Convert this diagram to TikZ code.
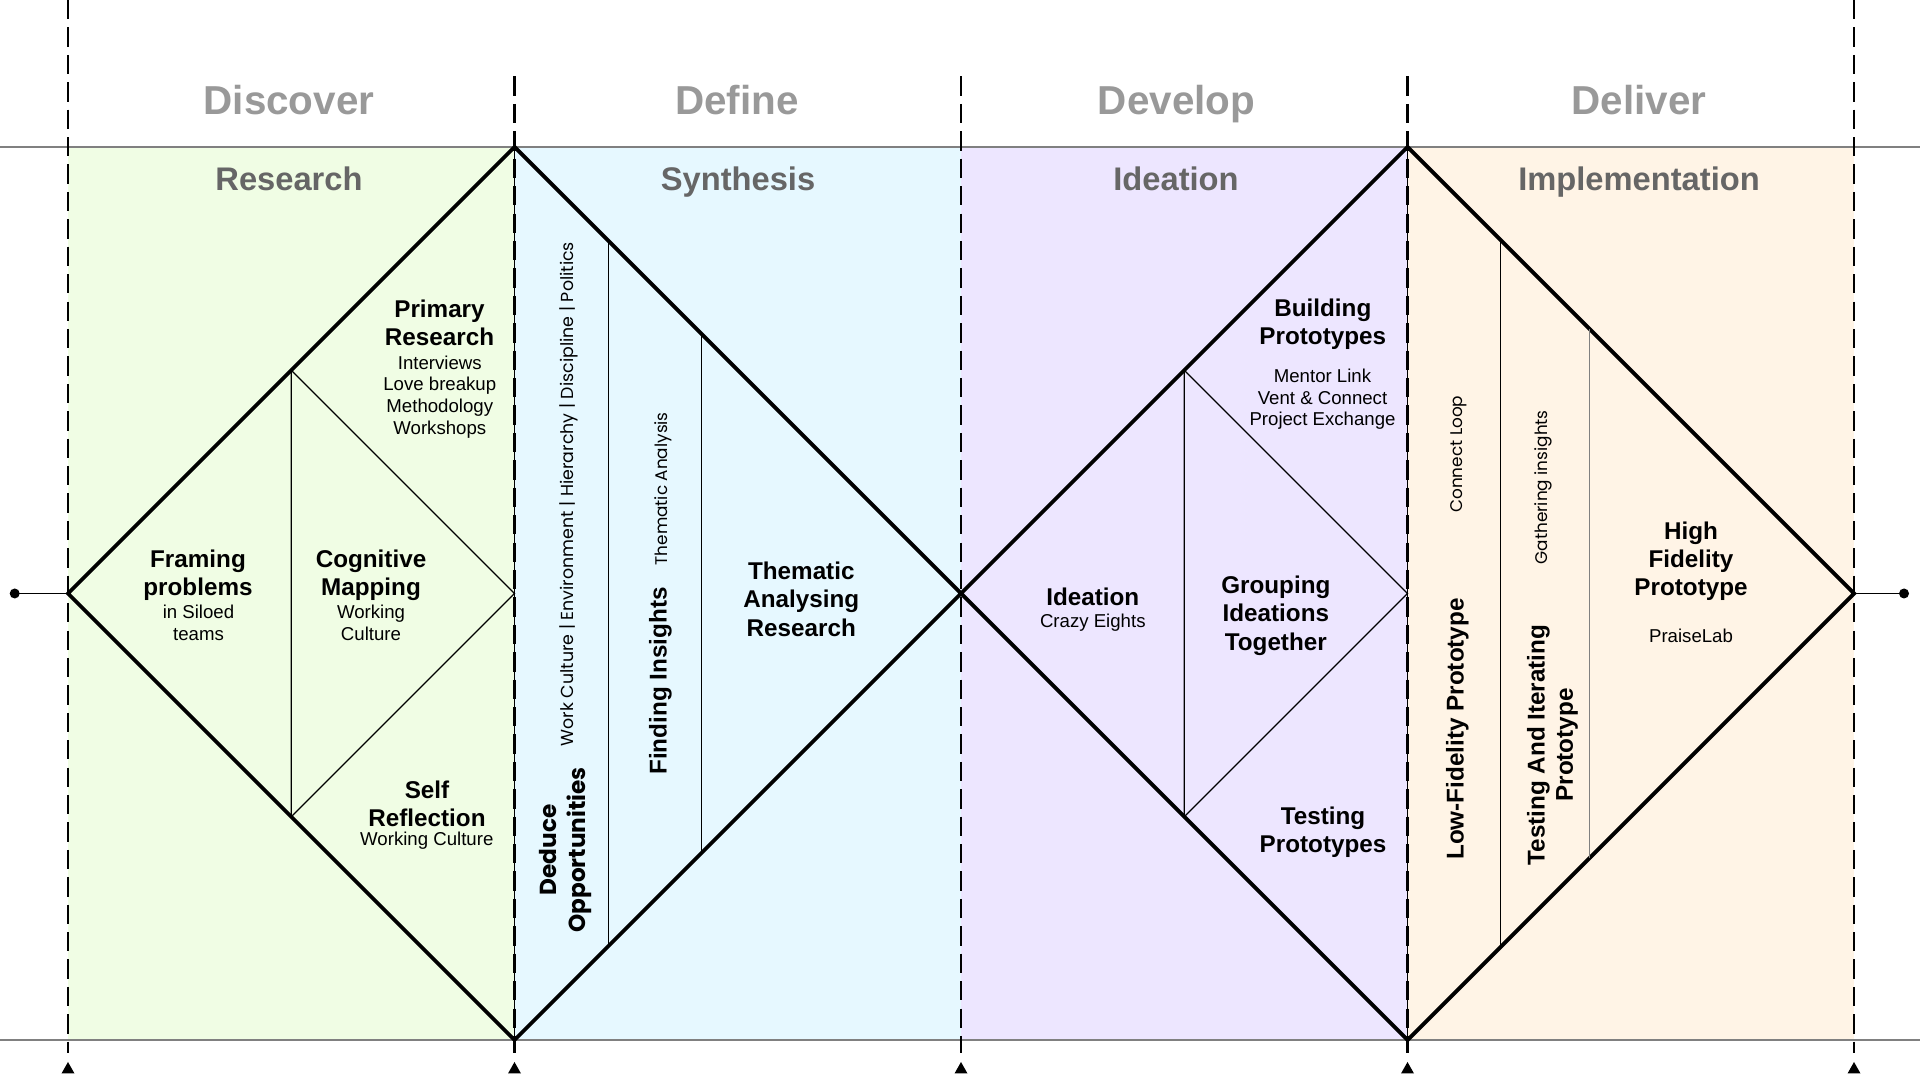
\documentclass[tikz,border=0pt]{standalone}
\usepackage{fontspec}
\setmainfont{Liberation Sans}
\newfontfamily\popfont{Poppins}
\usepackage{xcolor}
\usepackage{tikz}
\usetikzlibrary{positioning}

\definecolor{grnbg}{RGB}{240,253,228}
\definecolor{cyanbg}{RGB}{230,248,255}
\definecolor{lavbg}{RGB}{237,230,255}
\definecolor{peachbg}{RGB}{255,244,230}
\definecolor{phasegray}{RGB}{153,153,153}
\definecolor{stagegray}{RGB}{102,102,102}
\definecolor{framegray}{RGB}{128,128,128}

\newcommand{\guidetip}[1]{\fill (#1,0.18) -- ++(0.065,-0.115) -- ++(-0.13,0) -- cycle;}

\begin{document}
\begin{tikzpicture}[
    phasettl/.style={font=\bfseries\fontsize{11.5pt}{13pt}\selectfont, text=phasegray, inner sep=0pt, anchor=base},
    stagettl/.style={font=\bfseries\fontsize{9.3pt}{11pt}\selectfont, text=stagegray, inner sep=0pt, anchor=base},
    lbl/.style={font=\bfseries\fontsize{6.9pt}{8.05pt}\selectfont, align=center, inner sep=0pt, anchor=north},
    subtxt/.style={font=\fontsize{5.3pt}{6.17pt}\selectfont, align=center, inner sep=0pt, anchor=north},
    rotsub/.style={font=\popfont\fontsize{4.8pt}{6pt}\selectfont, rotate=90, inner sep=0pt, anchor=base},
    rotlbl/.style={font=\bfseries\fontsize{6.9pt}{8.05pt}\selectfont, rotate=90, inner sep=0pt, align=center},
    guideline/.style={line width=0.6pt, dash pattern=on 5.5pt off 2.3pt},
    outline/.style={line width=1.1pt, line join=miter},
    thinline/.style={line width=0.35pt}
  ]
    \useasboundingbox (0,0) rectangle (19.2,10.8);

    % Column backgrounds
    \fill[grnbg] (0.68,0.40) rectangle (5.145,9.33);
    \fill[cyanbg] (5.145,0.40) rectangle (9.61,9.33);
    \fill[lavbg] (9.61,0.40) rectangle (14.075,9.33);
    \fill[peachbg] (14.075,0.40) rectangle (18.54,9.33);

    % Frame lines
    \coordinate (ftl) at (0,9.33);
    \coordinate (ftr) at (19.2,9.33);
    \coordinate (fbl) at (0,0.40);
    \coordinate (fbr) at (19.2,0.40);
    \draw[framegray, line width=0.6pt] (ftl) -- (ftr);
    \draw[framegray, line width=0.6pt] (fbl) -- (fbr);

    % Guide lines
    \coordinate (g0t) at (0.68,10.8);
    \coordinate (g0b) at (0.68,0.27);
    \coordinate (g1t) at (5.145,10.035);
    \coordinate (g1b) at (5.145,0.27);
    \coordinate (g2t) at (9.61,10.035);
    \coordinate (g2b) at (9.61,0.27);
    \coordinate (g3t) at (14.075,10.035);
    \coordinate (g3b) at (14.075,0.27);
    \coordinate (g4t) at (18.54,10.8);
    \coordinate (g4b) at (18.54,0.27);
    \draw[guideline] (g0t) -- (g0b);
    \draw[guideline] (g1t) -- (g1b);
    \draw[guideline] (g2t) -- (g2b);
    \draw[guideline] (g3t) -- (g3b);
    \draw[guideline] (g4t) -- (g4b);
    \guidetip{0.68}
    \guidetip{5.145}
    \guidetip{9.61}
    \guidetip{14.075}
    \guidetip{18.54}

    % Diamond 1
    \coordinate (dl1) at (0.68,4.865);
    \coordinate (dt1) at (5.145,9.33);
    \coordinate (dr1) at (9.61,4.865);
    \coordinate (db1) at (5.145,0.40);
    \draw[line width=0.5pt] (dt1) -- (db1);
    \draw[outline] (dl1) -- (dt1) -- (dr1) -- (db1) -- cycle;

    % Diamond 2
    \coordinate (dl2) at (9.61,4.865);
    \coordinate (dt2) at (14.075,9.33);
    \coordinate (dr2) at (18.54,4.865);
    \coordinate (db2) at (14.075,0.40);
    \draw[line width=0.5pt] (dt2) -- (db2);
    \draw[outline] (dl2) -- (dt2) -- (dr2) -- (db2) -- cycle;

    % Discover inner diamond
    \coordinate (it1) at (2.9125,7.0975);
    \coordinate (im1) at (5.145,4.865);
    \coordinate (ib1) at (2.9125,2.6325);
    \draw[thinline] (it1) -- (im1) -- (ib1) -- cycle;

    % Define splits
    \coordinate (sa1) at (6.085,8.39);
    \coordinate (sa2) at (6.085,1.34);
    \coordinate (sb1) at (7.015,7.46);
    \coordinate (sb2) at (7.015,2.27);
    \draw[thinline] (sa1) -- (sa2);
    \draw[thinline] (sb1) -- (sb2);

    % Develop inner diamond
    \coordinate (it2) at (11.8425,7.0975);
    \coordinate (im2) at (14.075,4.865);
    \coordinate (ib2) at (11.8425,2.6325);
    \draw[thinline] (it2) -- (im2) -- (ib2) -- cycle;

    % Deliver splits
    \coordinate (ta1) at (15.005,8.40);
    \coordinate (ta2) at (15.005,1.33);
    \coordinate (tb1) at (15.895,7.51);
    \coordinate (tb2) at (15.895,2.22);
    \draw[thinline] (ta1) -- (ta2);
    \draw[thinline, framegray] (tb1) -- (tb2);

    % In and out
    \coordinate (inL) at (0.147,4.865);
    \coordinate (outR) at (19.04,4.865);
    \draw[line width=0.55pt] (inL) -- (dl1);
    \draw[line width=0.55pt] (dr2) -- (outR);
    \fill (inL) circle (0.05);
    \fill (outR) circle (0.05);

    % Phase titles
    \node[phasettl] (phDiscover) at (2.89,9.655) {Discover};
    \node[phasettl] (phDefine) at (7.37,9.655) {Define};
    \node[phasettl] (phDevelop) at (11.765,9.655) {Develop};
    \node[phasettl] (phDeliver) at (16.39,9.655) {Deliver};

    % Stage titles
    \node[stagettl] (stResearch) at (2.89,8.895) {Research};
    \node[stagettl] (stSynthesis) at (7.38,8.895) {Synthesis};
    \node[stagettl] (stIdeation) at (11.76,8.895) {Ideation};
    \node[stagettl] (stImpl) at (16.39,8.895) {Implementation};

    % Discover labels
    \node[lbl] (primRes) at (4.395,7.81) {Primary\\Research};
    \node[subtxt] (primSub) at (4.398,7.25) {Interviews\\Love breakup\\Methodology\\Workshops};
    \node[lbl] (frameProb) at (1.98,5.306) {Framing\\problems};
    \node[subtxt] (frameSub) at (1.985,4.753) {in Siloed\\teams};
    \node[lbl] (cogMap) at (3.71,5.312) {Cognitive\\Mapping};
    \node[subtxt] (cogSub) at (3.71,4.753) {Working\\Culture};
    \node[lbl] (selfRef) at (4.27,2.996) {Self\\Reflection};
    \node[subtxt] (selfSub) at (4.268,2.486) {Working Culture};

    % Define labels
    \node[rotsub, font=\popfont\fontsize{4.95pt}{6pt}\selectfont] (workCult) at (5.733,5.858) {Work Culture | Environment | Hierarchy | Discipline | Politics};
    \node[rotlbl, font=\popfont\bfseries\fontsize{6.6pt}{8.4pt}\selectfont, anchor=north] (deduce) at (5.385,2.30) {Deduce\\Opportunities};
    \node[rotsub] (themAna) at (6.677,5.912) {Thematic Analysis};
    \node[rotlbl, anchor=base] (findIns) at (6.667,3.99) {Finding Insights};
    \node[lbl] (themRes) at (8.013,5.186) {Thematic\\Analysing\\Research};

    % Develop labels
    \node[lbl] (buildProt) at (13.228,7.819) {Building\\Prototypes};
    \node[subtxt] (buildSub) at (13.225,7.116) {Mentor Link\\Vent \& Connect\\Project Exchange};
    \node[lbl] (ideat) at (10.928,4.926) {Ideation};
    \node[subtxt] (ideatSub) at (10.928,4.669) {Crazy Eights};
    \node[lbl] (groupIdea) at (12.758,5.046) {Grouping\\Ideations\\Together};
    \node[lbl] (testProt) at (13.23,2.739) {Testing\\Prototypes};

    % Deliver labels
    \node[rotsub] (connLoop) at (14.627,6.258) {Connect Loop};
    \node[rotlbl, anchor=base] (lowFi) at (14.637,3.51) {Low-Fidelity Prototype};
    \node[rotsub] (gathIns) at (15.477,5.927) {Gathering insights};
    \node[rotlbl, anchor=north] (testIter) at (15.263,3.35) {Testing And Iterating\\Prototype};
    \node[lbl] (highFi) at (16.91,5.589) {High\\Fidelity\\Prototype};
    \node[subtxt] (praise) at (16.91,4.519) {PraiseLab};
\end{tikzpicture}
\end{document}
